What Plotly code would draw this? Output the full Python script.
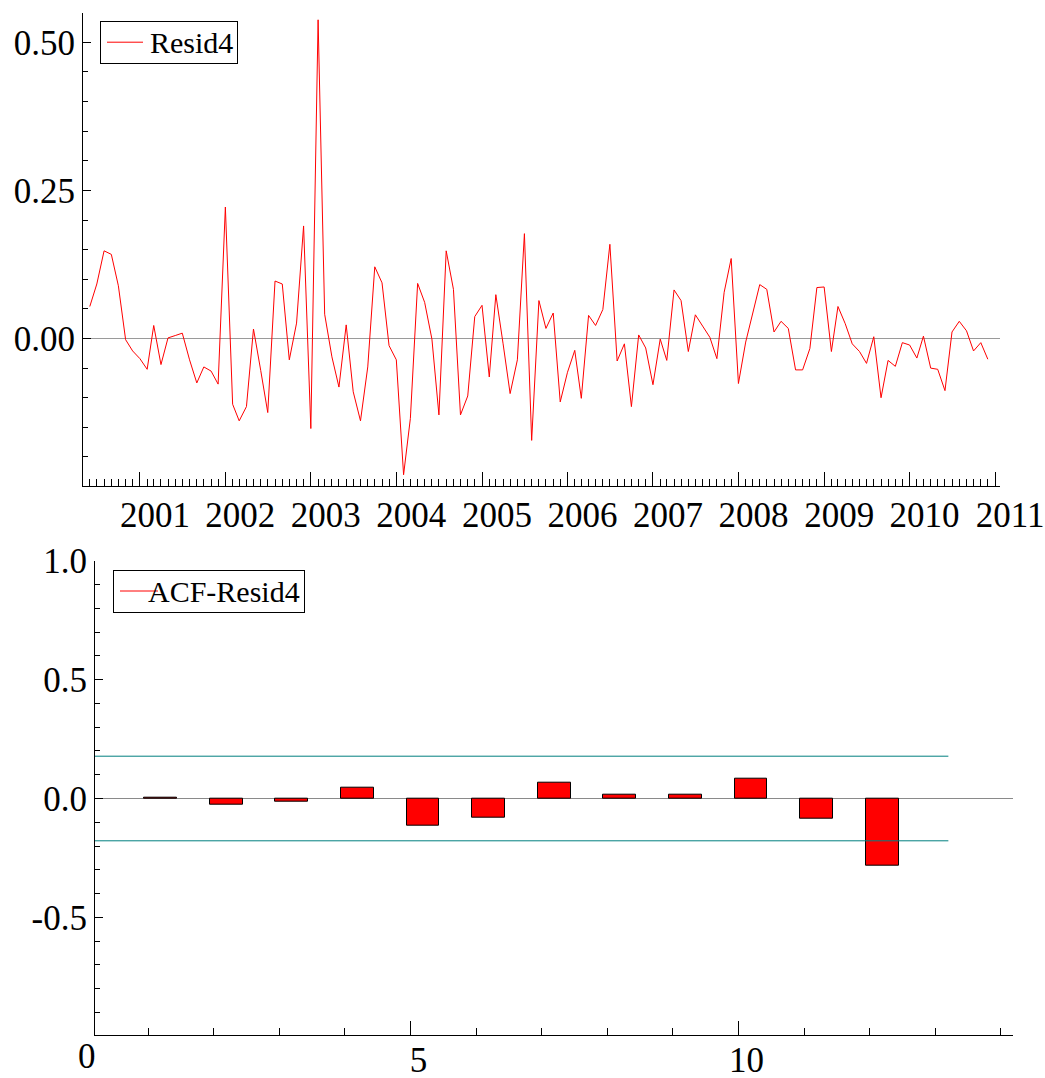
import pandas as pd
import plotly.graph_objects as go

# ---------------- data ----------------
resid_start = "2000-06-01"
resid4 = [
    0.054, 0.092, 0.148, 0.142, 0.089, -0.002, -0.021, -0.034, -0.052, 0.022,
    -0.044, 0.001, 0.005, 0.009, -0.036, -0.075, -0.048, -0.055, -0.077, 0.222,
    -0.111, -0.139, -0.115, 0.016, -0.054, -0.125, 0.097, 0.092, -0.036, 0.026,
    0.190, -0.152, 0.538, 0.041, -0.031, -0.082, 0.023, -0.090, -0.139, -0.048,
    0.121, 0.094, -0.012, -0.036, -0.230, -0.135, 0.093, 0.061, -0.001, -0.129,
    0.148, 0.083, -0.129, -0.097, 0.037, 0.056, -0.065, 0.074, -0.009, -0.093,
    -0.036, 0.177, -0.172, 0.064, 0.017, 0.043, -0.107, -0.057, -0.020, -0.101,
    0.039, 0.022, 0.049, 0.159, -0.038, -0.009, -0.115, 0.006, -0.016, -0.078,
    -0.001, -0.037, 0.082, 0.064, -0.022, 0.040, 0.021, 0.002, -0.034, 0.078,
    0.135, -0.076, -0.006, 0.041, 0.091, 0.083, 0.011, 0.029, 0.017, -0.053,
    -0.053, -0.017, 0.086, 0.087, -0.022, 0.054, 0.025, -0.009, -0.022, -0.042,
    0.003, -0.100, -0.037, -0.047, -0.007, -0.011, -0.033, 0.004, -0.050, -0.052,
    -0.088, 0.011, 0.029, 0.013, -0.021, -0.007, -0.035,
]
dates = pd.date_range(resid_start, periods=len(resid4), freq="MS")

acf_lags = [1, 2, 3, 4, 5, 6, 7, 8, 9, 10, 11, 12]
acf_values = [0.004, -0.024, -0.014, 0.046, -0.113, -0.081, 0.067, 0.018, 0.017, 0.083, -0.084, -0.283]
band_level = 0.178
band_x = [0, 13.2]

series_names = ["Resid4", "ACF-Resid4"]
top_y_ticks = [0.0, 0.25, 0.5]
top_y_text = ["0.00", "0.25", "0.50"]
bot_y_ticks = [-0.5, 0.0, 0.5, 1.0]
bot_y_text = ["-0.5", "0.0", "0.5", "1.0"]
bot_x_ticks = [0, 5, 10]
bot_x_text = ["0", "5", "10"]

# ---------------- figure ----------------
W, H = 1045, 1078
FONT = "Liberation Serif"
TICKFONT = dict(family=FONT, size=35, color="black")
LEGFONT = dict(family=FONT, size=30, color="black")
RED = "#FF0000"

def px_x(p):
    return p / W

def px_y(p):
    return 1 - p / H

fig = go.Figure()

fig.add_trace(go.Scatter(
    x=dates, y=resid4, mode="lines", name=series_names[0],
    line=dict(color=RED, width=1), xaxis="x", yaxis="y", showlegend=False,
))

fig.add_trace(go.Bar(
    x=acf_lags, y=acf_values, width=0.5, offset=-0.06, name=series_names[1],
    marker=dict(color=RED, line=dict(color="black", width=1)),
    showlegend=False, xaxis="x2", yaxis="y2",
))
for sgn in (1, -1):
    fig.add_trace(go.Scatter(
        x=band_x, y=[sgn * band_level] * 2, mode="lines",
        line=dict(color="#007F7F", width=1), showlegend=False,
        xaxis="x2", yaxis="y2",
    ))

axis_common = dict(
    showline=True, linecolor="black", linewidth=1, mirror=False,
    showgrid=False, ticks="inside", tickcolor="black", tickwidth=1,
    tickfont=TICKFONT, automargin=False,
)

bot_x_range = [0.19, 14.19]

fig.update_layout(
    width=W, height=H,
    margin=dict(l=0, r=0, t=0, b=0),
    paper_bgcolor="white", plot_bgcolor="white",
    font=dict(family=FONT, color="black"),
    bargap=0,
    showlegend=False,
    xaxis=dict(
        **axis_common,
        domain=[px_x(83), px_x(1000)],
        anchor="y",
        type="date",
        range=["2000-05-03", "2011-01-22"],
        tickmode="linear", tick0="2001-01-01", dtick="M12",
        tickformat="%Y", ticklen=14, ticklabelshift=15, ticklabelstandoff=-2,
        minor=dict(dtick="M1", tick0="2001-01-01", ticks="inside", ticklen=7,
                   tickcolor="black", showgrid=False),
        zeroline=False,
    ),
    yaxis=dict(
        **axis_common,
        domain=[px_y(486), px_y(12.7)],
        anchor="x",
        range=[-0.249, 0.550],
        tickmode="array", tickvals=top_y_ticks, ticktext=top_y_text,
        ticklen=8,
        minor=dict(dtick=0.05, tick0=0, ticks="inside", ticklen=5,
                   tickcolor="black", showgrid=False),
        zeroline=True, zerolinecolor="#9A9A9A", zerolinewidth=1,
    ),
    xaxis2=dict(
        **axis_common,
        domain=[px_x(95), px_x(1013.3)],
        anchor="y2",
        range=bot_x_range,
        tickmode="array", tickvals=bot_x_ticks, ticktext=bot_x_text,
        ticklen=14, ticklabelshift=8, ticklabelstandoff=-6,
        minor=dict(dtick=1, tick0=0, ticks="inside", ticklen=7,
                   tickcolor="black", showgrid=False),
        zeroline=False,
    ),
    yaxis2=dict(
        **axis_common,
        domain=[px_y(1034.5), px_y(560.7)],
        anchor="x2",
        range=[-0.993, 1.0005],
        tickmode="array", tickvals=bot_y_ticks, ticktext=bot_y_text,
        ticklen=8,
        minor=dict(dtick=0.1, tick0=0, ticks="inside", ticklen=5,
                   tickcolor="black", showgrid=False),
        zeroline=True, zerolinecolor="#8A8A8A", zerolinewidth=1,
    ),
)

# "0" label of the lag axis sits left of the plotted range
fig.add_annotation(
    x=(bot_x_ticks[0] - bot_x_range[0]) / (bot_x_range[1] - bot_x_range[0]),
    xref="x2 domain", y=px_y(1056), yref="paper",
    text=bot_x_text[0], showarrow=False, xanchor="center", yanchor="middle",
    xshift=4, font=TICKFONT,
)

# legend boxes (framed labels with a red line key)
NB = "\u00a0"
legend_specs = [
    # name, box left px, box centre y px, leading spaces, trailing spaces, key x0, key x1
    (series_names[0], 100, 42.2, 6, 0, 107, 143),
    (series_names[1], 113, 591.0, 4, 0, 120, 158),
]
for name, bx, cy, lead, trail, k0, k1 in legend_specs:
    fig.add_annotation(
        x=px_x(bx), y=px_y(cy), xref="paper", yref="paper",
        xanchor="left", yanchor="middle", showarrow=False,
        text=NB * lead + name + NB * trail, font=LEGFONT,
        bordercolor="black", borderwidth=1, borderpad=4,
        bgcolor="rgba(255,255,255,0)",
    )
    fig.add_shape(
        type="line", xref="paper", yref="paper", layer="above",
        x0=px_x(k0), x1=px_x(k1), y0=px_y(cy), y1=px_y(cy),
        line=dict(color=RED, width=1),
    )

fig.write_html(
    "out.html",
    config={"displayModeBar": False},
    post_script="document.body.style.margin='0';document.body.style.overflow='hidden';",
)
